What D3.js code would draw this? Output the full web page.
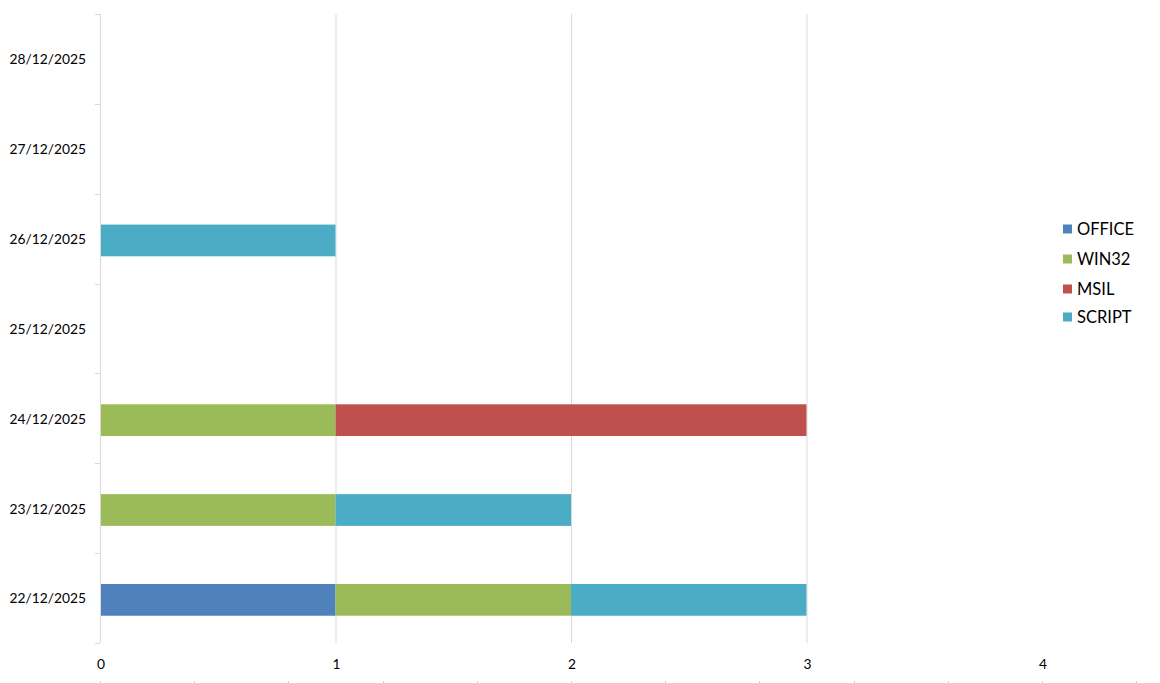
<!DOCTYPE html>
<html>
<head>
<meta charset="utf-8">
<script src="https://cdn.jsdelivr.net/npm/d3@7"></script>
<style>
  html, body { margin: 0; padding: 0; background: #fff; }
  svg { display: block; }
  text { font-family: Lato, "Open Sans", sans-serif; fill: #000; }
</style>
</head>
<body>
<svg id="chart" width="1160" height="683"></svg>
<script>
const categories = ["22/12/2025", "23/12/2025", "24/12/2025", "25/12/2025", "26/12/2025", "27/12/2025", "28/12/2025"];
const seriesNames = ["OFFICE", "WIN32", "MSIL", "SCRIPT"];
const officeValues = [1, 0, 0, 0, 0, 0, 0];
const win32Values  = [1, 1, 1, 0, 0, 0, 0];
const msilValues   = [0, 0, 2, 0, 0, 0, 0];
const scriptValues = [1, 1, 0, 0, 1, 0, 0];
const xTickLabels = [0, 1, 2, 3, 4];
const colors = ["#4F81BD", "#9BBB59", "#C0504D", "#4BACC6"];

const svg = d3.select("#chart");
const plotLeft = 100, plotTop = 14, plotBottom = 643;

const rows = categories.map((c, i) => ({
  cat: c, OFFICE: officeValues[i], WIN32: win32Values[i], MSIL: msilValues[i], SCRIPT: scriptValues[i]
}));

const x = d3.scaleLinear().domain([0, 4]).range([plotLeft, 1042]);
const y = d3.scaleBand().domain(categories).range([plotBottom + 1.8, plotTop + 1.8]).paddingInner(0.647).paddingOuter(0.3235);
const yOuter = d3.scaleBand().domain(categories).range([plotBottom, plotTop]);
const color = d3.scaleOrdinal().domain(seriesNames).range(colors);

// gridlines (only within plotted max)
svg.append("g").selectAll("line")
  .data(xTickLabels.filter(v => v > 0 && v <= 3))
  .join("line")
  .attr("x1", d => x(d) + 0.5).attr("x2", d => x(d) + 0.5)
  .attr("y1", plotTop).attr("y2", plotBottom)
  .attr("stroke", "#d9d9d9").attr("stroke-width", 1);

// stacked bars
const stacked = d3.stack().keys(seriesNames)(rows);
svg.append("g").selectAll("g")
  .data(stacked).join("g")
  .attr("fill", d => color(d.key))
  .selectAll("rect")
  .data(d => d.filter(p => p[1] - p[0] > 0))
  .join("rect")
  .attr("x", d => x(d[0]))
  .attr("width", d => x(d[1]) - x(d[0]))
  .attr("y", d => y(d.data.cat))
  .attr("height", y.bandwidth());

// left axis line and tick marks
const axisG = svg.append("g");
axisG.append("line")
  .attr("x1", plotLeft + 0.5).attr("x2", plotLeft + 0.5)
  .attr("y1", plotTop).attr("y2", plotBottom)
  .attr("stroke", "#d9d9d9");
const boundaries = categories.map(c => yOuter(c)).concat([plotBottom]);
axisG.selectAll("line.tick")
  .data(boundaries).join("line").attr("class", "tick")
  .attr("x1", plotLeft - 5).attr("x2", plotLeft)
  .attr("y1", d => Math.round(d) + 0.5).attr("y2", d => Math.round(d) + 0.5)
  .attr("stroke", "#d9d9d9");

// category labels
axisG.selectAll("text.cat")
  .data(categories).join("text").attr("class", "cat")
  .attr("x", 86)
  .attr("y", d => yOuter(d) + yOuter.bandwidth() / 2 + 0.5)
  .attr("dy", "0.35em")
  .attr("text-anchor", "end")
  .attr("font-size", "13.8px")
  .text(d => d);

// x labels
svg.append("g").selectAll("text")
  .data(xTickLabels).join("text")
  .attr("x", d => x(d) + 1)
  .attr("y", 669)
  .attr("text-anchor", "middle")
  .attr("font-size", "13.8px")
  .text(d => d);

// faint minor marks at very bottom
svg.append("g").selectAll("rect")
  .data(d3.range(0, 4.41, 0.4)).join("rect")
  .attr("x", d => Math.round(x(d)))
  .attr("y", 681).attr("width", 1).attr("height", 2)
  .attr("fill", "#d0d0d0");

// legend
const legend = svg.append("g");
const legendY = [229, 259, 289, 317];
seriesNames.forEach((s, i) => {
  legend.append("rect")
    .attr("x", 1063).attr("y", legendY[i] - 4.5)
    .attr("width", 9).attr("height", 9)
    .attr("fill", color(s));
  legend.append("text")
    .attr("x", 1077).attr("y", legendY[i] + 0.5)
    .attr("dy", "0.35em")
    .attr("font-size", "16.5px")
    .text(s);
});
</script>
</body>
</html>
